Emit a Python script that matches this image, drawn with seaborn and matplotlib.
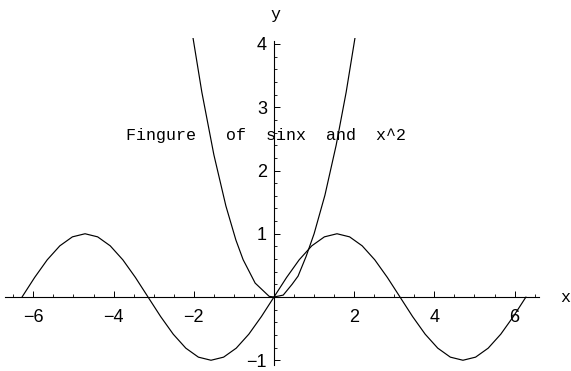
import matplotlib
matplotlib.use("Agg")
import matplotlib.pyplot as plt
import seaborn as sns
import pandas as pd
from matplotlib.ticker import MultipleLocator

# sampled points of sin(x) over [-2pi, 2pi], step pi/10
sin_x = [-6.283, -5.969, -5.655, -5.341, -5.027, -4.712, -4.398, -4.084, -3.770, -3.456,
         -3.142, -2.827, -2.513, -2.199, -1.885, -1.571, -1.257, -0.942, -0.628, -0.314,
         0.0, 0.314, 0.628, 0.942, 1.257, 1.571, 1.885, 2.199, 2.513, 2.827,
         3.142, 3.456, 3.770, 4.084, 4.398, 4.712, 5.027, 5.341, 5.655, 5.969, 6.283]
sin_y = [0.0, 0.309, 0.588, 0.809, 0.951, 1.0, 0.951, 0.809, 0.588, 0.309,
         0.0, -0.309, -0.588, -0.809, -0.951, -1.0, -0.951, -0.809, -0.588, -0.309,
         0.0, 0.309, 0.588, 0.809, 0.951, 1.0, 0.951, 0.809, 0.588, 0.309,
         0.0, -0.309, -0.588, -0.809, -0.951, -1.0, -0.951, -0.809, -0.588, -0.309, 0.0]

# sampled points of x^2 (clipped at the top of the plot range)
sq_x = [-2.1, -1.8, -1.5, -1.2, -0.95, -0.77, -0.47, -0.12, 0.0,
        0.23, 0.45, 0.6, 0.8, 1.0, 1.27, 1.55, 1.8, 2.1]
sq_y = [4.41, 3.24, 2.25, 1.44, 0.90, 0.59, 0.22, 0.01, 0.0,
        0.03, 0.20, 0.33, 0.64, 1.0, 1.61, 2.40, 3.24, 4.41]

x_ticks = [-6, -4, -2, 2, 4, 6]
y_ticks = [-1, 1, 2, 3, 4]
caption = "Fingure   of  sinx  and  x^2"

sns.set_theme(style="white")
plt.rcParams['font.family'] = ['Liberation Sans', 'DejaVu Sans']

W, H = 571, 371
fig = plt.figure(figsize=(W / 100, H / 100), dpi=100)
fig.patch.set_facecolor("white")

# origin position and units in pixels
x0_px, ux = 274.0, 40.1
y0_px, uy = 297.0, 63.25
xlim = (-6.75, 6.75)
ylim = (-1.1, 4.1)
left = x0_px + ux * xlim[0]
right = x0_px + ux * xlim[1]
top = y0_px - uy * ylim[1]
bottom = y0_px - uy * ylim[0]
ax = fig.add_axes([left / W, (H - bottom) / H, (right - left) / W, (bottom - top) / H])
ax.set_facecolor("white")

df_sin = pd.DataFrame({"x": sin_x, "y": sin_y})
df_sq = pd.DataFrame({"x": sq_x, "y": sq_y})
sns.lineplot(data=df_sin, x="x", y="y", ax=ax, color="black", lw=0.85,
             sort=False, estimator=None)
sns.lineplot(data=df_sq, x="x", y="y", ax=ax, color="black", lw=0.85,
             sort=False, estimator=None)

ax.set_xlim(*xlim)
ax.set_ylim(*ylim)
ax.set_xlabel("")
ax.set_ylabel("")

# axes crossing at the origin
for s in ("top", "right"):
    ax.spines[s].set_visible(False)
ax.spines["left"].set_position(("data", 0))
ax.spines["bottom"].set_position(("data", 0))
ax.spines["left"].set_bounds(-1.07, 4.05)
ax.spines["bottom"].set_bounds(-6.7, 6.62)
for s in ("left", "bottom"):
    ax.spines[s].set_color("black")
    ax.spines[s].set_linewidth(0.8)

ax.set_xticks(x_ticks)
ax.set_yticks(y_ticks)
ax.set_xticklabels([f"{v}".replace("-", "\u2212") for v in x_ticks])
ax.set_yticklabels([f"{v}".replace("-", "\u2212") for v in y_ticks])
ax.xaxis.set_minor_locator(MultipleLocator(0.5))
ax.yaxis.set_minor_locator(MultipleLocator(0.2))
ax.tick_params(which="both", bottom=True, left=True, top=False, right=False)
ax.tick_params(which="major", direction="in", length=4, width=0.7, color="black",
               labelsize=13, labelcolor="black")
ax.tick_params(which="minor", direction="in", length=2.2, width=0.6, color="black")
ax.tick_params(axis="x", which="major", pad=9)
ax.tick_params(axis="y", which="major", pad=5)

ax.text(-0.2, 2.55, caption, family="Liberation Mono", fontsize=12,
        ha="center", va="center", color="black")

fig.text(565 / W, 1 - 297 / H, "x", family="Liberation Mono", fontsize=12,
         ha="center", va="center", color="black")
fig.text(275 / W, 1 - 14 / H, "y", family="Liberation Mono", fontsize=12,
         ha="center", va="center", color="black")

fig.savefig("out.png", dpi=100)
